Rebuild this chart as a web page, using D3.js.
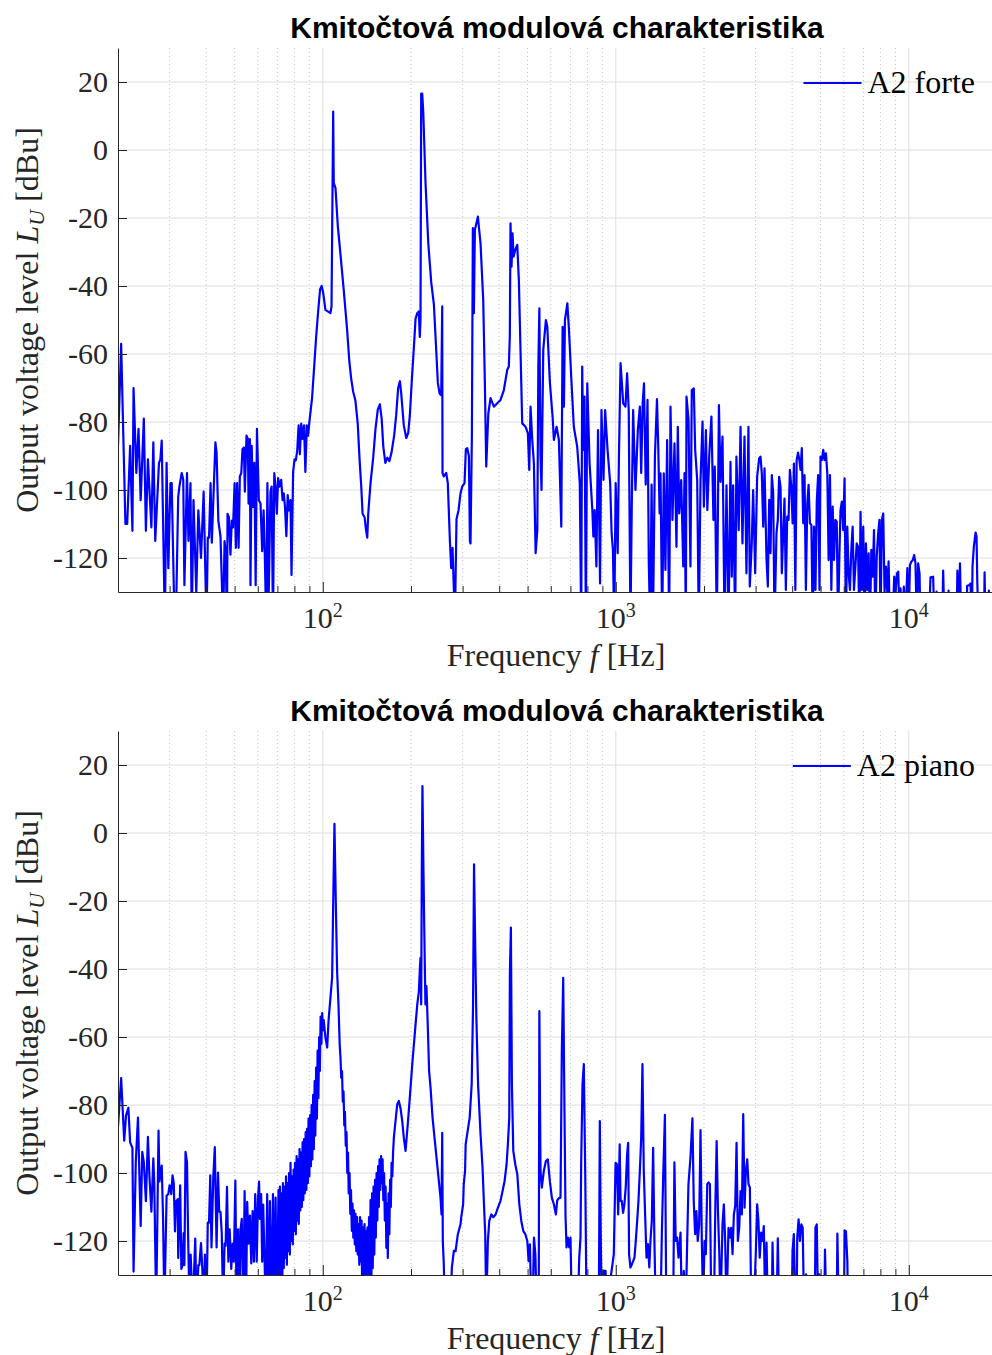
<!DOCTYPE html>
<html><head><meta charset="utf-8">
<script src="https://cdn.jsdelivr.net/npm/d3@7/dist/d3.min.js"></script>
<style>body{margin:0;background:#fff}svg{display:block}</style>
</head><body><svg id="c" width="992" height="1355"></svg>
<script>
const titleText = "Kmitočtová modulová charakteristika";
const yTicks = [20, 0, -20, -40, -60, -80, -100, -120];
const xMajor = [100, 1000, 10000];
const xMinor = [30,40,50,60,70,80,90,200,300,400,500,600,700,800,900,2000,3000,4000,5000,6000,7000,8000,9000];
const xDomain = [20, 20000];
const yDomain = [-130, 30];

// [frequency Hz, level dBu]
const forte = [
[20,-87],[20.5,-57],[21.2,-110],[21.5,-110],[22.0,-87],[22.4,-112],[22.6,-70],[23.1,-95],[23.5,-82],[23.9,-103],[24.5,-79],[24.9,-112],[25.3,-91],[26.0,-111],[26.4,-86],[26.8,-115],[27.6,-92],[27.9,-91],[28.2,-85.5],[28.9,-140],[29.3,-92],[29.7,-123],[30.2,-98],[30.5,-98],[31.2,-140],[31.5,-140],[32.1,-102],[32.4,-99],[33.0,-95],[33.4,-97],[33.7,-128],[34.4,-95],[34.8,-115],[35.35,-98],[35.7,-140],[36.2,-103],[37.0,-130],[37.6,-106],[38.4,-120],[39.2,-100.5],[40.1,-140],[40.5,-114],[40.9,-114],[41.4,-98],[41.8,-115.5],[43.0,-86],[43.4,-89],[44.0,-109],[44.75,-113.6],[45.7,-140],[46.2,-115],[46.6,-118],[47.1,-140],[47.3,-107],[47.8,-108],[48.4,-119],[48.9,-109],[49.4,-111],[50.0,-98],[50.5,-117],[51.0,-98],[51.6,-117],[52.1,-96],[52.7,-95],[53.2,-88],[53.8,-87.5],[54.2,-100.5],[54.9,-84],[55.5,-85],[55.8,-104],[56.4,-85],[56.65,-128],[57.2,-87],[57.8,-105],[58.4,-92],[59.0,-128],[59.6,-82],[60.5,-103],[61.3,-104],[62.1,-118],[62.8,-106],[63.4,-119],[64.1,-140],[64.7,-98],[65.4,-130],[66.3,-100.5],[66.9,-99],[67.6,-140],[68.3,-95],[69.0,-99],[69.7,-107],[70.4,-96.5],[71.1,-99],[72.1,-97],[72.9,-103],[73.6,-101],[74.3,-105],[75.1,-113.6],[75.9,-101.5],[76.7,-106],[77.6,-103],[78.2,-125],[79.2,-94.7],[80.1,-91],[80.9,-91.3],[81.8,-88.4],[82.7,-81],[83.5,-89.5],[84.4,-80.5],[85.3,-85],[86.3,-81],[87.2,-94.7],[88.2,-81],[89.1,-84],[90.1,-79.5],[90.8,-77],[91.9,-73],[92.9,-67],[93.9,-61],[94.9,-55],[96.4,-47.5],[97.9,-41],[99.1,-40],[100.3,-42],[102.1,-47],[106.2,-48],[107.1,-46],[108.5,11.3],[109.0,-9.7],[110.5,-11.2],[112.5,-22.3],[114.9,-30.7],[117.9,-41.2],[121.0,-52.7],[123.2,-62.2],[124.9,-67],[126.9,-71],[129.2,-73.7],[131.6,-80.5],[133.6,-91.5],[135.3,-99],[136.7,-107],[138.9,-108],[140.3,-111.5],[141.8,-114],[142.9,-107],[145.5,-98],[148.6,-90.5],[151.3,-82],[154.1,-76.3],[156.6,-74.8],[158.8,-79],[160.9,-87.3],[163.5,-92],[166.1,-90.5],[168.8,-91.5],[171.6,-89],[175.2,-84],[178.0,-78],[180.8,-70],[183.3,-68],[185.2,-71.6],[189.0,-81],[192.7,-84.7],[195.7,-83.2],[198.2,-78],[201.4,-67.4],[204.6,-58],[207.3,-49.6],[210.1,-48],[212.6,-47.5],[214.3,-55],[215.5,-50],[216.7,16.6],[218.4,16.6],[220.2,11.3],[224.2,-9.7],[229.1,-27.5],[234.5,-39],[239.4,-45.4],[243.2,-57],[247.0,-68.5],[250.3,-71.6],[253.6,-72.1],[255.6,-46],[256.2,-95],[258.8,-96],[263.8,-95],[267.1,-98],[271.4,-114.6],[274.3,-123],[277.2,-117],[280.1,-129.3],[282.3,-140],[286.0,-108.5],[290.5,-106],[295.1,-101],[299.1,-99],[304.6,-98],[307.8,-88],[311.2,-87.7],[315.2,-90],[317.7,-115],[319.3,-115.7],[322.7,-84.3],[325.2,-23],[327.8,-48],[330.4,-23.5],[338.3,-19.6],[345.4,-27.5],[352.8,-44.1],[357.4,-68.6],[361.3,-93.1],[367.2,-77.5],[373.7,-73],[383.6,-75.5],[393.9,-74.5],[404.2,-73.5],[414.9,-70.6],[426.0,-64.7],[431.4,-63.7],[434.8,-54.9],[437.2,-21.6],[440.7,-34.3],[444.2,-24.5],[447.7,-31.4],[453.7,-29.4],[460.9,-27.9],[466.8,-38.2],[472.9,-58.8],[479.3,-80.4],[492.0,-81.4],[501.0,-83.3],[506.6,-94.1],[511.7,-75.5],[518.7,-85.3],[525.4,-92.2],[532.5,-118.6],[539.7,-111.8],[544.0,-63.7],[548.4,-46.6],[553.4,-90.2],[557.8,-100],[565.5,-58.8],[577.3,-50],[583.7,-52],[595.9,-68.6],[608.5,-78.4],[614.8,-85.3],[627.9,-81.4],[639.4,-85.3],[651.6,-110.8],[658.3,-52],[665.2,-75.5],[670.5,-50],[683.3,-45.1],[692.1,-52.9],[704.4,-66.7],[719.0,-81.4],[738.5,-87.3],[753.5,-98],[761.9,-140],[768.0,-63.7],[774.1,-88.2],[782.1,-72.5],[790.3,-140],[799.2,-68.6],[813.9,-92.2],[831.7,-105.9],[838.3,-113.7],[847.0,-105.9],[858.6,-122.5],[869.6,-82.4],[883.6,-127.5],[893.5,-76.5],[907.9,-97],[919.5,-76.5],[937.3,-88.2],[956.8,-98],[967.6,-112.7],[977.6,-117.6],[987.8,-140],[998.9,-98],[1015,-118.6],[1025,-90.2],[1038,-62.7],[1060,-74.5],[1079,-75.5],[1093,-65.7],[1107,-76.5],[1122,-140],[1134,-104],[1146,-76.5],[1167,-100],[1189,-82.4],[1208,-75.5],[1221,-95],[1235,-74.5],[1248,-68.6],[1265,-98.4],[1283,-73.5],[1296,-121.5],[1310,-140],[1325,-98.4],[1339,-140],[1360,-90],[1382,-73.3],[1396,-87.3],[1411,-106.9],[1421,-95.1],[1440,-140],[1458,-95.1],[1477,-123.5],[1497,-85.3],[1521,-140],[1537,-75.5],[1561,-108.8],[1586,-86.3],[1611,-116.7],[1628,-81.4],[1646,-106.9],[1672,-97.1],[1699,-122.5],[1716,-95],[1734,-140],[1743,-72.5],[1771,-79.4],[1798,-122.5],[1817,-70.6],[1846,-70.1],[1866,-88.2],[1896,-97.1],[1920,-140],[1946,-97.1],[1977,-79.9],[1998,-104.9],[2030,-82.4],[2053,-105.9],[2086,-89.2],[2120,-78.4],[2154,-108.8],[2177,-93.1],[2212,-140],[2249,-75],[2277,-97.6],[2313,-84.3],[2350,-140],[2387,-98.6],[2425,-140],[2463,-91.7],[2488,-125.5],[2515,-98.6],[2555,-140],[2580,-90.2],[2627,-111.8],[2665,-81.4],[2706,-115.7],[2749,-84.3],[2792,-124.5],[2836,-81.4],[2866,-128.4],[2911,-115.7],[2943,-100],[2990,-124.5],[3037,-96.1],[3085,-90.7],
[3118,-90.2],[3150,-95.1],[3185,-110.8],[3218,-93.6],[3269,-120.6],[3303,-128.4],[3339,-102.9],[3373,-118.6],[3408,-95.6],[3445,-101],[3481,-140],[3535,-112.7],[3572,-108.8],[3609,-96.1],[3649,-99],[3687,-124.5],[3726,-112.7],[3765,-102.5],[3805,-129.4],[3847,-107.8],[3887,-108.8],[3928,-94.1],[3972,-99],[4013,-109.8],[4055,-92.2],[4100,-129.4],[4143,-91.2],[4187,-89],[4233,-91.2],[4270,-94.1],[4314,-87.7],[4362,-109.8],[4407,-95.6],[4454,-129.4],[4503,-104],[4550,-98.5],[4598,-109.8],[4651,-110.3],[4700,-140],[4749,-110.8],[4802,-129.4],[4852,-103.4],[4904,-95.6],[4958,-129.4],[4996,-90.2],[5048,-91.2],[5106,-88.2],[5159,-91.2],[5214,-89.2],[5271,-95.1],[5326,-120.6],[5382,-95.6],[5441,-129.4],[5498,-104.9],[5556,-120.6],[5617,-108.8],[5676,-109.3],[5735,-140],[5798,-118.6],[5847,-105.9],[5909,-103.4],[5974,-111.8],[6036,-96.6],[6100,-140],[6167,-110.8],[6232,-124.5],[6297,-129.4],[6365,-117.6],[6432,-110.8],[6500,-129.4],[6572,-122.5],[6641,-115.7],[6710,-116.7],[6784,-140],[6843,-106.4],[6915,-129.4],[6991,-110.8],[7064,-140],[7138,-115.7],[7217,-129.4],[7293,-118.6],[7369,-140],[7450,-117.6],[7528,-125.5],[7607,-111.8],[7691,-140],[7772,-119.6],[7853,-113.2],[7940,-108.8],[8007,-140],[8091,-108.8],[8180,-106.9],[8265,-129.9],[8352,-122.5],[8444,-129.9],[8532,-121],[8621,-140],[8800,-140],[8916,-125.5],[9015,-129.9],[9110,-124.5],[9205,-124],[9307,-140],[9370,-128.9],[9468,-140],[9618,-128.4],[9725,-140],[9887,-123],[9990,-140],[10090,-122.1],[10200,-121.1],[10320,-120.6],[10430,-119.1],[10540,-121.6],[10650,-140],[10760,-121.6],[10880,-124.5],[10960,-140],[11700,-140],[11860,-125.7],[12110,-125.5],[12240,-140],[12440,-129.9],[12500,-140],[13000,-140],[13100,-123.7],[13240,-140],[13600,-140],[13670,-129.6],[13750,-140],[14550,-140],[14650,-123.7],[14800,-140],[14950,-121.6],[15110,-140],[15700,-140],[15820,-128.2],[16060,-128],[16240,-127.5],[16410,-140],[16500,-122.5],[16670,-116.7],[16900,-112.5],[17030,-113.7],[17130,-127],[17300,-140],[18050,-140],[18140,-124.2],[18280,-140],[18700,-140],[18760,-129.6],[18850,-140],[19500,-140]
];

const piano = [
[20.0,-86.3],[20.5,-72.1],[21.0,-90.5],[21.3,-83.1],[21.7,-80.8],[22.0,-91],[22.4,-92.6],[22.6,-129],[23.0,-96.8],[23.4,-83.7],[23.9,-115.6],[24.2,-93.8],[24.5,-96.8],[24.9,-108.3],[25.3,-89.4],[25.6,-100.9],[26.0,-111.4],[26.4,-95.7],[26.6,-103],[27.0,-140],[27.5,-87.5],[27.7,-102.5],[28.2,-97.8],[28.5,-113.5],[28.8,-140],[29.3,-106.7],[29.7,-106.2],[30.0,-103.6],[30.4,-106.2],[30.7,-100.7],[31.0,-103],[31.3,-117.2],[31.6,-108.3],[32.0,-107.7],[32.1,-125],[32.6,-103.6],[32.9,-128.2],[33.2,-127.1],[33.5,-117.7],[33.7,-127.1],[34.0,-93.8],[34.4,-96.8],[34.7,-118.7],[35.1,-140],[35.4,-124],[36.0,-140],[36.7,-119.3],[37.1,-140],[37.6,-127.1],[37.9,-127.1],[38.4,-120.6],[38.8,-128.2],[39.2,-140],[39.6,-124],[40.1,-140],[40.5,-114.6],[40.9,-114.6],[41.3,-100.7],[41.7,-121.9],[42.3,-100.9],[42.8,-92.4],[43.4,-121.9],[43.9,-99.9],[44.3,-111.4],[44.75,-111.4],[45.2,-117.7],[45.7,-140],[46.2,-120.8],[46.6,-121.4],[47.1,-104.1],[47.6,-126.1],[48.1,-116.6],[48.7,-128.2],[49.2,-120.8],[49.7,-126.1],[50.3,-102.2],[50.8,-140],[51.4,-116.6],[51.9,-140],[52.4,-116.6],[52.9,-113.5],[53.5,-140],[54.1,-105.3],[54.7,-140],[55.2,-108.5],[55.8,-120.8],[56.4,-112.5],[57.0,-126.6],[57.6,-111.2],[58.2,-126.1],[58.8,-106.2],[59.5,-126.1],[60.1,-107.2],[60.6,-102.5],[61.0,-113.5],[61.6,-106.2],[62.1,-126.1],[62.6,-109.3],[63.2,-124],[63.9,-140],[64.6,-106.2],[65.3,-140],[66.0,-108.3],[66.9,-140],[67.6,-106.2],[68.3,-140],[69.0,-107.2],[69.7,-140],
[70.6,-105],[71.0,-140],[71.4,-104],[71.9,-132],[72.3,-106],[72.7,-140],[73.1,-103],[73.6,-128],[74.0,-104],[74.5,-125],[74.9,-101],[75.4,-127],[75.8,-103],[76.3,-123],[76.7,-100],[77.2,-124],[77.6,-97],[78.1,-120],[78.5,-101],[79.0,-121],[79.5,-99],[79.9,-117],[80.4,-97],[80.9,-118],[81.4,-95],[81.9,-114],[82.3,-96],[82.8,-115],[83.3,-93],[83.8,-111],[84.3,-94],[84.8,-110],[85.3,-91],[85.8,-108],[86.3,-90],[86.8,-106],[87.4,-88],[87.9,-105],[88.4,-87],[88.9,-103],[89.4,-84],[90.0,-101],[90.5,-83],[91.1,-98],[91.6,-80],[92.1,-96],[92.7,-77],[93.2,-93],[93.8,-73],[94.3,-89],[94.9,-69],[95.5,-84],[96.0,-64],[96.6,-78],[97.2,-60],[97.7,-70],[98.3,-54],[98.9,-62],[99.5,-53],[100.1,-58],[100.7,-55],
[102.1,-60.2],[103.5,-63.1],[104.6,-55.3],[106.2,-48.4],[107.6,-42.5],[108.5,-21],[109.6,2.7],[110.8,-21],[111.9,-40.6],[113.1,-50.4],[114.2,-62.2],
[114.9,-66],[115.6,-72],[116.3,-70],[117.0,-79],[117.7,-76],[118.4,-86],[119.0,-82],[119.8,-92],[120.5,-88],[121.2,-100],[121.9,-94],[122.6,-106],[123.4,-100],[124.1,-112],[124.8,-105],[125.6,-117],[126.3,-109],[127.1,-119],[127.8,-111],[128.6,-121],[129.3,-112],[130.1,-123],[130.9,-113],[131.6,-124],[132.4,-115],[133.2,-127],[134.0,-113],[134.8,-126],[135.6,-114],[136.4,-140],[137.2,-116],[138.0,-140],[138.8,-115],[139.7,-140],[140.5,-117],[141.3,-140],[142.1,-116],[143.0,-140],[143.8,-113],[144.7,-140],[145.5,-108],[146.4,-135],[147.3,-106],[148.1,-128],[149.0,-104],[149.9,-124],[150.8,-102],[151.7,-119],[152.6,-100],[153.5,-114],[154.4,-98],[155.3,-110],[156.2,-96],[157.2,-105],[158.1,-95],[159.0,-103],[160.0,-96],[160.9,-108],[161.9,-100],[162.8,-114],[163.8,-104],[164.8,-122],[165.7,-109],[166.7,-125],[167.7,-106],[168.7,-118],[169.7,-102],[170.7,-110],[171.7,-97],[172.7,-101],[173.7,-94],
[174.8,-89.6],[177.1,-84.7],[179.5,-79.8],[181.8,-78.8],[184.2,-81],[186.7,-84.7],[189.0,-89.6],[191.6,-93.5],[194,-88],[196.2,-82.7],[199.3,-74.9],[202.0,-68],[204.6,-62.2],[207.3,-56.3],[210.1,-50.4],[212.8,-46.5],[214.4,-40],[215.5,-36.7],[216.7,-50.4],[217.7,-11.2],[218.8,13.8],[220.6,-11.2],[222.2,-30.8],[224.0,-50.4],[225.8,-45],[228.1,-56.3],[230.6,-70],[233.2,-74.9],[236.9,-83.7],[240.6,-89.6],[244.4,-95.5],[248.3,-101.4],[252.2,-107.3],[254.2,-112.2],[255.6,-88.2],[256.8,-120],[258.8,-126.9],[261,-140],[272.9,-140],[275.7,-127.8],[280.1,-122.9],[283.9,-123],[289.0,-118],[295.1,-115.1],[296.7,-113.1],[301.3,-109.2],[302.7,-103.3],[305.9,-99.4],[307.3,-91.6],[312.2,-87.6],[317.2,-83.7],[322.2,-73.9],[325.6,-51.4],[328.2,-9.2],[330.8,-29.8],[334.3,-54.3],[338.8,-73.9],[345.4,-88.6],[350.9,-98.4],[354.5,-108.2],[358.4,-118],[361.3,-140],[365.9,-120],[370.0,-114.1],[375.9,-112.2],[381.9,-113],[388.9,-112.2],[396.0,-110.2],[404.2,-108.2],[410.7,-105.3],[417.2,-102.4],[423.8,-97.5],[428.2,-91.6],[432.9,-83.7],[435.0,-41.6],[438.5,-27.8],[442.0,-73.9],[446.8,-93.5],[454.0,-97.5],[461.2,-100.4],[468.5,-109.2],[475.9,-114.1],[483.5,-117.1],[491.1,-118],[498.9,-120],[504.0,-125.9],[509.2,-121],[514.9,-140],[520.3,-140],[525.7,-119],[531.5,-124],[537.0,-140],[545.8,-140],[548.4,-52.4],[553.4,-99.4],[559.1,-104.3],[568.0,-99.4],[577.1,-96.5],[586.3,-96],[595.6,-102.4],[605.1,-107.3],[614.7,-109.2],[624.5,-112.2],[631.4,-108],[641.4,-107.3],[647.6,-107.3],[654.3,-64.1],[661.5,-42.6],[668.4,-83.7],[673.8,-113.1],[679.1,-121.9],[686.2,-119],[693.8,-121.9],[700.5,-119],[707.7,-140],[742.0,-140],[750.3,-124.9],[757.7,-119],[761.9,-96.5],[769.8,-73.9],[777.8,-68],[786.5,-100.4],[794.6,-140],[875.1,-140],[882.0,-84.7],[888.9,-120],[895.9,-140],[910.3,-128.8],[923,-128.8],[929.8,-140],[984.4,-123.9],[998.2,-97],[1009,-97.4],[1019,-112.2],[1031,-91.6],[1038,-108.2],[1048,-108.2],[1059,-111.7],[1070,-109.2],[1081,-104.3],[1093,-94.5],[1102,-91.1],[1110,-123.9],[1122,-127.8],[1134,-126.9],[1146,-125.9],[1158,-124.9],[1170,-120],[1183,-114.1],[1195,-108.2],[1208,-99.4],[1221,-89.6],[1233,-68],[1246,-99.4],[1260,-113.1],[1273,-124.9],[1287,-120.9],[1301,-127.8],[1313,-120],[1327,-114.1],[1341,-92.6],[1355,-120.9],[1369,-140],[1421,-140],[1436,-118],[1452,-100.4],[1471,-82.9],[1487,-140],[1570,-140],[1585,-96.9],[1601,-120],[1619,-119],[1637,-124.9],[1663,-117.5],[1680,-140],[1706,-128.8],[1733,-140],[1752,-120.9],[1770,-103.3],[1798,-95.5],[1826,-83.9],[1845,-108.2],[1865,-118],[1884,-111.2],[1904,-120],[1925,-115.1],[1946,-87.4],[1966,-120],[1987,-140],[2008,-120],[2029,-123.9],[2052,-103.3],[2073,-102.8],[2095,-103.3],[2118,-140],[2162,-140],[2186,-110.2],[2209,-90.6],[2232,-111.2],[2256,-123.9],[2277,-140],[2313,-115.1],[2337,-109.2],[2362,-120],[2387,-140],[2425,-116.1],[2450,-119],[2477,-116.1],[2503,-123.9],[2529,-112.2],[2556,-109.7],[2583,-91.1],[2610,-120],[2638,-116.1],[2665,-105.3],[2693,-112.2],[2722,-82.7],[2751,-110.2],[2779,-99.4],[2809,-96],[2838,-103.3],[2868,-104.3],[2898,-140],[2958,-140],[3004,-123.9],[3037,-109.2],[3068,-114.1],[3099,-124.9],[3134,-117.5],[3167,-120],[3200,-115.6],[3235,-140],[3269,-120.5],[3303,-140],[3408,-140],[3427,-120.5],[3462,-140],[3540,-140],[3572,-119.2],[3609,-140],[3987,-140],[4010,-122.9],[4052,-118],[4097,-140],[4140,-140],[4162,-119],[4206,-113.6],[4250,-120],[4298,-115.1],[4344,-116.1],[4390,-140],[4420,-140],[4460,-129.8],[4510,-140],[4780,-140],[4802,-116.1],[4852,-115.1],[4904,-140],[4958,-129.8],[4996,-140],[5150,-140],[5175,-122.5],[5229,-140],[5676,-140],[5705,-117.8],[5765,-140],[6012,-140],[6036,-116.9],[6100,-117.1],[6170,-125.9],[6200,-140],[19500,-140]
];

const panels = [
  {series: forte, legend: "A2 forte", top: 48, bottom: 592},
  {series: piano, legend: "A2 piano", top: 731, bottom: 1275}
];

const svg = d3.select("#c");
const serif = "'Liberation Serif','Times New Roman',serif";
const axisColor = "#262626";
const x = d3.scaleLog().domain(xDomain).range([118, 997]);

panels.forEach((p, i) => {
  const y = d3.scaleLinear().domain(yDomain).range([p.bottom, p.top]);
  const g = svg.append("g");

  // grid
  g.append("g").selectAll("line").data(yTicks).join("line")
    .attr("x1", 118).attr("x2", 992).attr("y1", d => y(d)).attr("y2", d => y(d))
    .attr("stroke", "#dedede").attr("stroke-width", 1);
  g.append("g").selectAll("line").data(xMinor).join("line")
    .attr("x1", d => x(d)).attr("x2", d => x(d)).attr("y1", p.top).attr("y2", p.bottom)
    .attr("stroke", "#c4c4c4").attr("stroke-width", 1).attr("stroke-dasharray", "1,3");
  g.append("g").selectAll("line").data(xMajor).join("line")
    .attr("x1", d => x(d)).attr("x2", d => x(d)).attr("y1", p.top).attr("y2", p.bottom)
    .attr("stroke", "#dedede").attr("stroke-width", 1);

  // clip + data line
  const cid = "clip" + i;
  svg.append("clipPath").attr("id", cid).append("rect")
    .attr("x", 118).attr("y", p.top).attr("width", 874).attr("height", p.bottom - p.top);
  const line = d3.line().x(d => x(d[0])).y(d => y(d[1]));
  g.append("path").datum(p.series).attr("d", line).attr("clip-path", `url(#${cid})`)
    .attr("fill", "none").attr("stroke", "#0000ff").attr("stroke-width", 2.2)
    .attr("stroke-linejoin", "round");

  // y axis
  const ya = g.append("g").attr("transform", "translate(118,0)")
    .call(d3.axisLeft(y).tickValues(yTicks).tickSize(-9).tickSizeOuter(0).tickPadding(10).tickFormat(d => String(d)));
  ya.select(".domain").attr("stroke", axisColor);
  ya.selectAll(".tick line").attr("stroke", axisColor);
  ya.selectAll(".tick text").attr("fill", axisColor).style("font-family", serif).style("font-size", "30px");

  // x axis
  const xa = g.append("g").attr("transform", `translate(0,${p.bottom})`)
    .call(d3.axisBottom(x).tickValues(xMajor).tickSize(-10).tickSizeOuter(0).tickFormat(""));
  xa.select(".domain").attr("stroke", axisColor);
  xa.selectAll(".tick line").attr("stroke", axisColor);
  const xm = g.append("g").attr("transform", `translate(0,${p.bottom})`)
    .call(d3.axisBottom(x).tickValues(xMinor).tickSize(-6).tickFormat(""));
  xm.select(".domain").remove();
  xm.selectAll(".tick line").attr("stroke", axisColor);

  // x tick labels 10^n
  const lab = g.append("g").selectAll("text").data(xMajor).join("text")
    .attr("x", d => x(d)).attr("y", p.bottom + 36).attr("text-anchor", "middle")
    .attr("fill", axisColor).style("font-family", serif).style("font-size", "30px");
  lab.append("tspan").text("10");
  lab.append("tspan").attr("dy", -11).style("font-size", "20px").text(d => String(Math.round(Math.log10(d))));

  // x label
  const xl = g.append("text").attr("x", 556).attr("y", p.bottom + 74).attr("text-anchor", "middle")
    .attr("fill", axisColor).style("font-family", serif).style("font-size", "32px");
  xl.append("tspan").text("Frequency ");
  xl.append("tspan").style("font-style", "italic").text("f");
  xl.append("tspan").text(" [Hz]");

  // y label
  const cy = (p.top + p.bottom) / 2;
  const yl = g.append("text").attr("transform", `translate(38,${cy}) rotate(-90)`).attr("text-anchor", "middle")
    .attr("fill", axisColor).style("font-family", serif).style("font-size", "32px");
  yl.append("tspan").text("Output voltage level ");
  yl.append("tspan").style("font-style", "italic").text("L");
  yl.append("tspan").attr("dy", 6).style("font-style", "italic").style("font-size", "22px").text("U");
  yl.append("tspan").attr("dy", -6).text(" [dBu]");

  // title
  g.append("text").attr("x", 557).attr("y", p.top - 10).attr("text-anchor", "middle")
    .attr("fill", "#000").style("font-family", "'Liberation Sans',Arial,sans-serif")
    .style("font-weight", "bold").style("font-size", "30px").text(titleText);

  // legend
  const ly = y(20) + 1;
  const lt = g.append("text").attr("x", 975).attr("y", ly + 10).attr("text-anchor", "end")
    .attr("fill", "#000").style("font-family", serif).style("font-size", "32px").text(p.legend);
  const tw = lt.node().getComputedTextLength();
  g.append("line").attr("x1", 975 - tw - 64).attr("x2", 975 - tw - 6).attr("y1", ly).attr("y2", ly)
    .attr("stroke", "#0000ff").attr("stroke-width", 2);
});
</script>
</body></html>
